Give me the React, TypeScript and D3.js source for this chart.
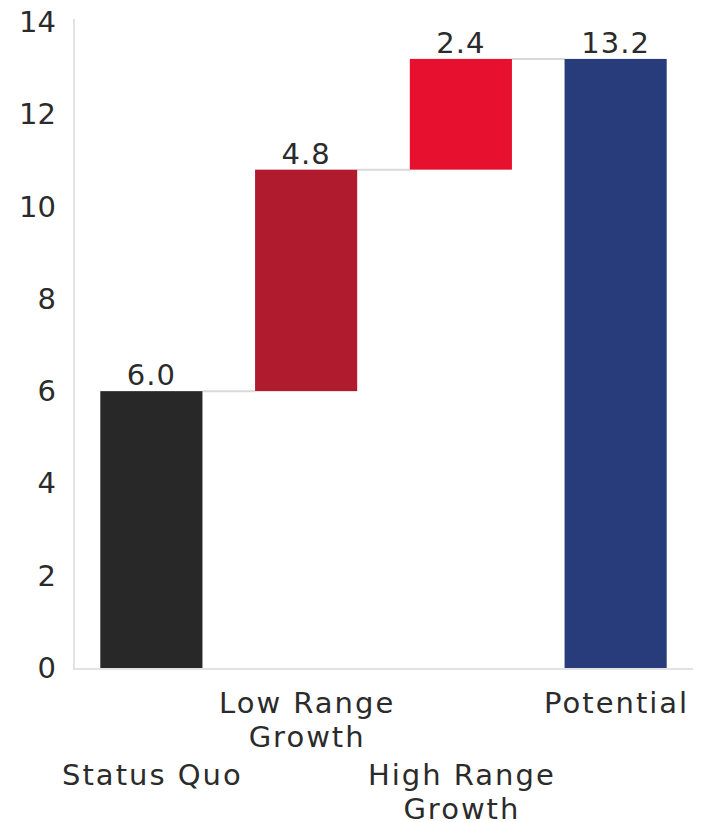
import React from "react";
import * as d3 from "d3";

const categories = ["Status Quo", "Low Range Growth", "High Range Growth", "Potential"];
const labelLines = [["Status Quo"], ["Low Range", "Growth"], ["High Range", "Growth"], ["Potential"]];
const values = [6.0, 4.8, 2.4, 13.2];
const isTotal = [true, false, false, true];
const barColors = ["#282828", "#b01c2e", "#e8102f", "#283b7a"];
const yTicks = [0, 2, 4, 6, 8, 10, 12, 14];

const W = 706;
const H = 822;
const FONT = "'DejaVu Sans', sans-serif";
const TEXT = "#2b2b2b";
const GRID = "#e2e2e2";

export default function App() {
  const x = d3.scaleBand<string>().domain(categories).range([74, 693]).paddingInner(0.34).paddingOuter(0.17);
  const y = d3.scaleLinear().domain([0, 14]).range([668, 22]);

  let cum = 0;
  const bars = values.map((v, i) => {
    let start: number, end: number;
    if (isTotal[i]) {
      start = 0;
      end = v;
      cum = v;
    } else {
      start = cum;
      end = cum + v;
      cum = end;
    }
    return { cat: categories[i], v, start, end, color: barColors[i], lines: labelLines[i] };
  });

  const bw = x.bandwidth();

  return (
    <svg width={W} height={H} style={{ position: "absolute", left: 0, top: 0, background: "#fff" }}>
      <line x1={74} x2={74} y1={19} y2={669} stroke={GRID} strokeWidth={2} />
      <line x1={73} x2={693} y1={669} y2={669} stroke={GRID} strokeWidth={2} />
      {yTicks.map((t) => (
        <text key={t} x={56} y={y(t)} textAnchor="end" dominantBaseline="central" fontFamily={FONT} fontSize={29} fill={TEXT}>
          {t}
        </text>
      ))}
      {bars.slice(0, -1).map((b, i) => {
        const nx = x(categories[i + 1])!;
        return (
          <line key={"c" + i} x1={x(b.cat)! + bw} x2={nx} y1={y(b.end)} y2={y(b.end)} stroke="#d9d9d9" strokeWidth={2} />
        );
      })}
      {bars.map((b) => (
        <rect key={b.cat} x={x(b.cat)} y={y(b.end)} width={bw} height={y(b.start) - y(b.end)} fill={b.color} />
      ))}
      {bars.map((b) => (
        <text key={"v" + b.cat} x={x(b.cat)! + bw / 2} y={y(b.end) - 6} textAnchor="middle" fontFamily={FONT} fontSize={29} letterSpacing={1} fill={TEXT}>
          {b.v.toFixed(1)}
        </text>
      ))}
      {bars.map((b, i) => {
        const startY = i % 2 === 0 ? 785 : 713;
        return (
          <text key={"l" + b.cat} textAnchor="middle" fontFamily={FONT} fontSize={29} letterSpacing={2} fill={TEXT}>
            {b.lines.map((ln, j) => (
              <tspan key={j} x={x(b.cat)! + bw / 2 + 1} y={startY + j * 34}>
                {ln}
              </tspan>
            ))}
          </text>
        );
      })}
    </svg>
  );
}
